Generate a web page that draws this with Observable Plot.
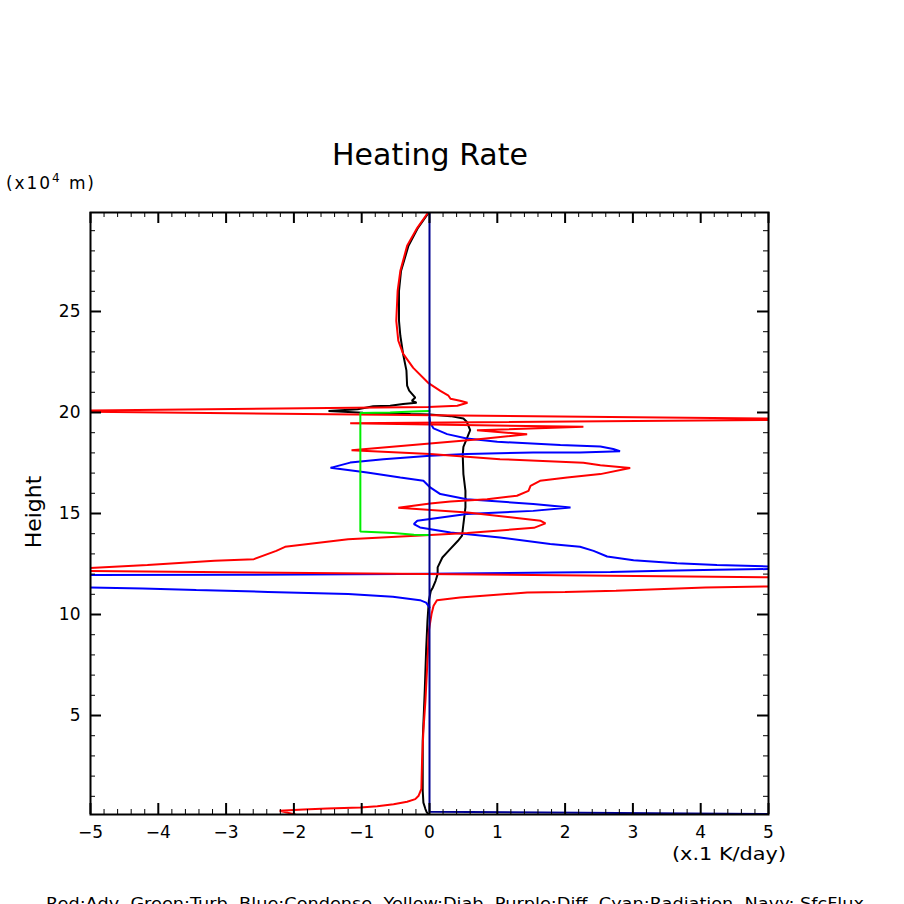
<!DOCTYPE html>
<html>
<head>
<meta charset="utf-8">
<script src="https://cdn.jsdelivr.net/npm/d3@7"></script>
<script src="https://cdn.jsdelivr.net/npm/@observablehq/plot@0.6"></script>
<style>
  html, body { margin: 0; padding: 0; background: #fff; }
  #chart { position: relative; width: 904px; height: 904px; overflow: hidden; background: #fff; }
</style>
</head>
<body>
<div id="chart"></div>
<script>
// ---- Data (x in 0.1 K/day, height in 10^4 m) ----
// Red: Advection
const advX = [-0.02,-0.18,-0.33,-0.43,-0.47,-0.49,-0.46,-0.39,-0.24,-0.02,0.16,0.28,0.31,0.45,0.56,0.41,-0.02,-6.04,6.2,-1.17,2.27,0.70,1.44,0.65,-1.15,0.01,1.04,2.27,2.52,2.96,2.52,2.03,1.63,1.49,1.46,1.29,0.85,0.31,0.01,-0.46,0.56,1.64,1.71,1.54,0.56,0.01,-1.20,-2.13,-2.26,-2.59,-3.17,-4.16,-5.02,-5.59,8.42,4.99,4.07,2.75,2.0,1.44,0.45,0.11,0.06,0.03,-0.01,-0.03,-0.06,-0.09,-0.11,-0.12,-0.16,-0.21,-0.33,-0.53,-0.77,-1.02,-1.51,-1.86,-2.21,-1.98];
const advH = [29.9,29.14,28.25,27.01,26.02,24.54,23.55,22.91,22.21,21.47,21.07,20.83,20.68,20.58,20.48,20.33,20.27,20.07,19.66,19.47,19.29,19.12,18.92,18.65,18.13,17.94,17.69,17.51,17.39,17.25,16.95,16.78,16.62,16.37,16.12,15.88,15.71,15.59,15.50,15.28,15.05,14.64,14.51,14.29,14.04,13.93,13.73,13.35,13.15,12.74,12.66,12.45,12.30,12.17,11.74,11.39,11.34,11.17,11.12,11.09,10.84,10.71,10.43,10.02,9.19,7.71,5.73,4.25,2.76,1.37,1.03,0.86,0.73,0.61,0.51,0.45,0.40,0.35,0.28,0.1];

// Blue: Condense (zero above 19.75 and below 10.35)
const condX = [0,0.01,0.06,0.26,0.55,1.0,1.93,2.52,2.71,2.81,2.22,1.53,0.55,0.01,-0.68,-1.17,-1.46,-0.92,-0.43,-0.09,0.01,0.16,0.55,1.53,2.08,1.53,0.55,-0.18,-0.23,-0.14,0.31,1.04,1.78,2.22,2.42,2.62,3.01,3.65,4.24,5.0,5.47,5.0,4.24,3.45,2.67,1.83,-0.41,-2.72,-5.02,-11.0,-5.02,-4.23,-3.44,-2.38,-1.2,-0.54,-0.14,-0.05,0];
const condH = [19.75,19.49,19.21,18.93,18.71,18.55,18.39,18.32,18.19,18.08,18.02,18.02,17.94,17.86,17.69,17.52,17.26,17.03,16.78,16.62,16.29,15.96,15.71,15.47,15.30,15.13,14.97,14.64,14.48,14.31,14.06,13.81,13.49,13.35,13.15,12.87,12.69,12.54,12.45,12.38,12.31,12.25,12.21,12.16,12.11,12.08,12.0,11.97,11.95,11.85,11.34,11.29,11.21,11.12,11.01,10.88,10.71,10.59,10.35];

// Black: total
const totX = [-0.01,-0.17,-0.31,-0.42,-0.45,-0.45,-0.43,-0.39,-0.34,-0.33,-0.30,-0.21,-0.26,-0.19,-0.39,-0.58,-0.83,-1.06,-1.49,-0.98,-0.28,0.01,0.31,0.50,0.55,0.60,0.55,0.50,0.49,0.50,0.53,0.53,0.50,0.48,0.42,0.28,0.19,0.12,0.12,0.09,0.05,0.02,-0.01,-0.03,-0.05,-0.07,-0.10,-0.10,-0.09,-0.06,-0.04,0];
const totH = [29.9,29.14,28.25,27.01,26.02,24.54,23.80,22.91,22.07,21.33,21.08,20.74,20.58,20.48,20.42,20.33,20.31,20.16,20.07,19.99,19.92,19.90,19.82,19.70,19.54,19.13,18.71,18.30,17.89,16.95,16.12,15.30,14.48,13.90,13.65,13.15,12.82,12.33,12.0,11.67,11.34,11.17,10.68,9.69,8.21,6.23,3.75,1.27,0.69,0.37,0.2,0.1];

// Green: Turbulence (zero outside 13.93–20.08)
const turbX = [0,-0.24,-0.58,-1.02,-1.02,-0.53,-0.23,0];
const turbH = [20.08,20.05,20.0,19.98,14.11,14.03,13.95,13.93];

// Navy: surface flux
const sfcX = [0,0,6.0];
const sfcH = [29.9,0.24,0.1];

// Axis ticks and labels
const xMajor = [-5,-4,-3,-2,-1,0,1,2,3,4,5];
const xMinor = d3.range(-50, 51, 2).map(v => v / 10).filter(v => Math.abs(v % 1) > 1e-9);
const yMajor = [5,10,15,20,25];
const yMinor = d3.range(1, 30).filter(v => v % 5 !== 0);

const titleText = "Heating Rate";
const yLabel = "Height";
const xUnit = "(x.1 K/day)";
const legendText = "Red:Adv  Green:Turb  Blue:Condense  Yellow:Diab  Purple:Diff  Cyan:Radiation  Navy: SfcFlux";

const series = [
  {xs: totX, hs: totH, color: "#000000"},
  {xs: condX, hs: condH, color: "#0000ff"},
  {xs: advX, hs: advH, color: "#ff0000"},
  {xs: turbX, hs: turbH, color: "#00ee00"},
  {xs: sfcX, hs: sfcH, color: "#000090"}
];

const W = 904, H = 904;
const mL = 90, mR = 136, mT = 212, mB = 90;
const fw = W - mL - mR, fh = H - mT - mB;

const fmt = d => d < 0 ? "\u2212" + (-d) : String(d);

const plot = Plot.plot({
  width: W, height: H,
  marginLeft: mL, marginRight: mR, marginTop: mT, marginBottom: mB,
  x: {domain: [-5, 5], axis: null},
  y: {domain: [0.1, 29.9], axis: null},
  style: {background: "white", fontFamily: "DejaVu Sans, sans-serif", fontSize: "17px", color: "black", overflow: "hidden"},
  marks: [
    ...series.map(s => Plot.line(s.xs.map((x, i) => ({x, h: s.hs[i]})), {
      x: "x", y: "h", stroke: s.color, strokeWidth: 2, clip: true, strokeLinejoin: "miter"
    })),
    Plot.frame({stroke: "black", strokeWidth: 2}),
    // bottom ticks
    Plot.tickX(xMajor, {x: d => d, insetTop: fh - 11, stroke: "black", strokeWidth: 2}),
    Plot.tickX(xMinor, {x: d => d, insetTop: fh - 5, stroke: "black", strokeWidth: 1}),
    // top ticks
    Plot.tickX(xMajor, {x: d => d, insetBottom: fh - 11, stroke: "black", strokeWidth: 2}),
    Plot.tickX(xMinor, {x: d => d, insetBottom: fh - 5, stroke: "black", strokeWidth: 1}),
    // left ticks
    Plot.tickY(yMajor, {y: d => d, insetRight: fw - 11, stroke: "black", strokeWidth: 2}),
    Plot.tickY(yMinor, {y: d => d, insetRight: fw - 5, stroke: "black", strokeWidth: 1}),
    // right ticks
    Plot.tickY(yMajor, {y: d => d, insetLeft: fw - 11, stroke: "black", strokeWidth: 2}),
    Plot.tickY(yMinor, {y: d => d, insetLeft: fw - 5, stroke: "black", strokeWidth: 1}),
    // tick labels
    Plot.text(xMajor, {x: d => d, frameAnchor: "bottom", dy: 23, text: fmt, fontSize: 17, fill: "black"}),
    Plot.text(yMajor, {y: d => d, frameAnchor: "left", dx: -10, textAnchor: "end", text: fmt, fontSize: 17, fill: "black"})
  ]
});

document.getElementById("chart").appendChild(plot);

const svg = d3.select(plot);
const ff = "DejaVu Sans, sans-serif";

svg.append("text")
  .attr("x", 430).attr("y", 165)
  .attr("text-anchor", "middle")
  .attr("font-family", ff).attr("font-size", 30)
  .attr("fill", "black")
  .text(titleText);

const unitY = svg.append("text")
  .attr("x", 6).attr("y", 189)
  .attr("text-anchor", "start")
  .attr("font-family", ff).attr("font-size", 17)
  .attr("textLength", 88).attr("lengthAdjust", "spacing")
  .attr("fill", "black");
unitY.append("tspan").text("(x10");
unitY.append("tspan").attr("font-size", 12).attr("dy", -7).text("4");
unitY.append("tspan").attr("dy", 7).text(" m)");

svg.append("text")
  .attr("transform", "translate(41,512) rotate(-90)")
  .attr("text-anchor", "middle")
  .attr("font-family", ff).attr("font-size", 22)
  .attr("fill", "black")
  .text(yLabel);

svg.append("text")
  .attr("x", 672).attr("y", 860)
  .attr("text-anchor", "start")
  .attr("font-family", ff).attr("font-size", 17)
  .attr("textLength", 114).attr("lengthAdjust", "spacingAndGlyphs")
  .attr("fill", "black")
  .text(xUnit);

svg.append("text")
  .attr("x", 46).attr("y", 909)
  .attr("text-anchor", "start")
  .attr("font-family", ff).attr("font-size", 16)
  .attr("textLength", 818).attr("lengthAdjust", "spacingAndGlyphs")
  .attr("xml:space", "preserve")
  .style("white-space", "pre")
  .attr("fill", "black")
  .text(legendText);
</script>
</body>
</html>
